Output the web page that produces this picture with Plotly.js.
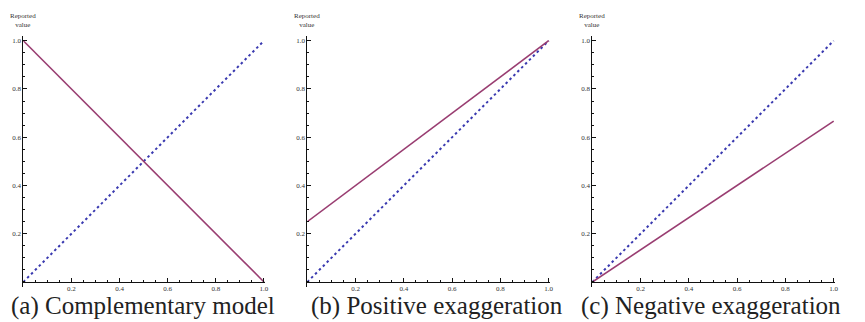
<!DOCTYPE html>
<html>
<head>
<meta charset="utf-8">
<script src="https://cdn.plot.ly/plotly-3.0.1.min.js"></script>
<style>html,body{margin:0;padding:0;background:#fff;}#chart{width:865px;height:322px;}</style>
</head>
<body>
<div id="chart"></div>
<script>
// ---- data ----
const actualX = [0, 1];
const identityY = [0, 1];
const complementaryY = [1, 0];
const positiveY = [0.25, 1];
const negativeY = [0, 0.667];
const tickVals = [0.2, 0.4, 0.6, 0.8, 1.0];
const tickLabels = ['0.2', '0.4', '0.6', '0.8', '1.0'];
const captions = ['(a) Complementary model', '(b) Positive exaggeration', '(c) Negative exaggeration'];
const modelSeries = [complementaryY, positiveY, negativeY];

// ---- layout helpers ----
const serif = 'Liberation Serif';
const xDomains = [[0.02694, 0.30659], [0.35526, 0.63572], [0.68474, 0.96520]];
const captionX = [0.1653, 0.5052, 0.8220];
const yDomain = [0.10776, 0.88851];
const xAxisPos = 0.12422;
const blue = '#3a3ab0';
const purple = '#993d71';
const tickFont = {family: serif, size: 7, color: '#333'};

const traces = [];
const layout = {
  width: 865, height: 322,
  margin: {l: 0, r: 0, t: 0, b: 0},
  paper_bgcolor: '#fff', plot_bgcolor: '#fff',
  showlegend: false,
  font: {family: serif},
  annotations: []
};

for (let i = 0; i < 3; i++) {
  const sx = i === 0 ? '' : String(i + 1);
  traces.push({x: actualX, y: identityY, type: 'scatter', mode: 'lines',
    xaxis: 'x' + sx, yaxis: 'y' + sx,
    line: {color: blue, width: 2, dash: '2.5px,3px'}, hoverinfo: 'skip'});
  traces.push({x: actualX, y: modelSeries[i], type: 'scatter', mode: 'lines',
    xaxis: 'x' + sx, yaxis: 'y' + sx,
    line: {color: purple, width: 1.6}, hoverinfo: 'skip'});

  layout['xaxis' + sx] = {
    domain: xDomains[i], range: [0, 1.005], anchor: 'free', position: xAxisPos,
    showgrid: false, zeroline: false, showline: true, linecolor: '#111', linewidth: 1,
    tickmode: 'array', tickvals: tickVals, ticktext: tickLabels,
    ticks: 'inside', ticklen: 4, tickcolor: '#111', tickwidth: 1,
    minor: {ticks: 'inside', tickmode: 'linear', tick0: 0, dtick: 0.05, ticklen: 2, tickcolor: '#111', showgrid: false},
    tickfont: tickFont, fixedrange: true
  };
  layout['yaxis' + sx] = {
    domain: yDomain, range: [-0.022, 1.02], anchor: 'x' + sx,
    showgrid: false, zeroline: false, showline: true, linecolor: '#111', linewidth: 1,
    tickmode: 'array', tickvals: tickVals, ticktext: tickLabels,
    ticks: 'inside', ticklen: 4, tickcolor: '#111', tickwidth: 1,
    minor: {ticks: 'inside', tickmode: 'linear', tick0: 0, dtick: 0.05, ticklen: 2, tickcolor: '#111', showgrid: false},
    tickfont: tickFont, fixedrange: true
  };

  layout.annotations.push({
    text: 'Reported<br>value', xref: 'x' + sx, yref: 'paper', x: 0, y: 0.9357,
    xanchor: 'center', yanchor: 'middle', showarrow: false,
    font: {family: serif, size: 7, color: '#333'}
  });
  layout.annotations.push({
    text: 'Actual<br>value', xref: 'x' + sx, yref: 'paper', x: 1.078, y: 0.1227,
    xanchor: 'center', yanchor: 'middle', showarrow: false,
    font: {family: serif, size: 7, color: '#333'}
  });
  layout.annotations.push({
    text: captions[i], xref: 'paper', yref: 'paper', x: captionX[i], y: 0.0,
    xanchor: 'center', yanchor: 'bottom', showarrow: false,
    font: {family: serif, size: 25, color: '#222'}
  });
}

Plotly.newPlot('chart', traces, layout, {displayModeBar: false, staticPlot: true});
</script>
</body>
</html>
